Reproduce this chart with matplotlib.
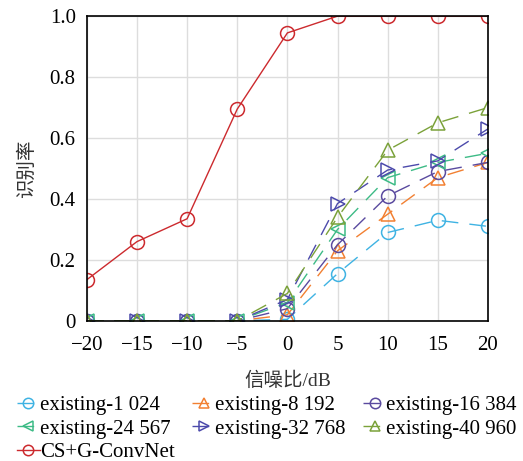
import matplotlib
matplotlib.use('Agg')
import matplotlib.pyplot as plt

plt.rcParams['font.family'] = ['Liberation Serif', 'Noto Sans CJK SC']

# SNR values (dB)
snr = [-20, -15, -10, -5, 0, 5, 10, 15, 20]

# recognition rates
acc_1024 = [0, 0, 0, 0, 0.005, 0.155, 0.29, 0.33, 0.31]
acc_8192 = [0, 0, 0, 0, 0.02, 0.23, 0.35, 0.47, 0.52]
acc_16384 = [0, 0, 0, 0, 0.04, 0.25, 0.41, 0.49, 0.52]
acc_24567 = [0, 0, 0, 0, 0.06, 0.30, 0.47, 0.52, 0.55]
acc_32768 = [0, 0, 0, 0, 0.07, 0.385, 0.495, 0.525, 0.63]
acc_40960 = [0, 0, 0, 0, 0.09, 0.34, 0.56, 0.65, 0.70]
acc_cs = [0.135, 0.26, 0.335, 0.695, 0.945, 1.0, 1.0, 1.0, 1.0]

series = [
    ('existing-1 024', acc_1024, '#3fb3e3', 'o'),
    ('existing-8 192', acc_8192, '#f28032', '^'),
    ('existing-16 384', acc_16384, '#5a4a9f', 'o'),
    ('existing-24 567', acc_24567, '#3dbb86', '<'),
    ('existing-32 768', acc_32768, '#4c4aab', '>'),
    ('existing-40 960', acc_40960, '#7ba23a', '^'),
]

fig = plt.figure(figsize=(5.23, 4.61), dpi=100)
ax = fig.add_axes([0.166, 0.304, 0.767, 0.661])

handles = []
for label, y, c, m in series:
    h, = ax.plot(snr, y, color=c, marker=m, markersize=10, markerfacecolor='none',
                 markeredgewidth=1.1, linewidth=1.0, dashes=(12, 8), label=label)
    handles.append(h)
h, = ax.plot(snr, acc_cs, color='#cc2a2e', marker='o', markersize=10,
             markerfacecolor='none', markeredgewidth=1.1, linewidth=1.0,
             label='CS+G-ConvNet')
handles.append(h)

ax.set_xlim(-20, 20)
ax.set_ylim(0, 1.0)
ax.set_xticks(snr)
ax.set_xticklabels(['\u221220', '\u221215', '\u221210', '\u22125', '0', '5', '10', '15', '20'])
ax.set_yticks([0, 0.2, 0.4, 0.6, 0.8, 1.0])
ax.set_yticklabels(['0', '0.2', '0.4', '0.6', '0.8', '1.0'])
ax.tick_params(length=0, labelsize=15)
ax.tick_params(axis='x', pad=11)
ax.tick_params(axis='y', pad=8)
ax.grid(True, color='#dddddd', linewidth=1.0)
ax.set_axisbelow(True)
for s in ax.spines.values():
    s.set_color('black')
    s.set_linewidth(1.2)

ax.set_xlabel('信噪比/dB', fontsize=14, color='#333333', labelpad=12)
ax.set_ylabel('识别率', fontsize=14, color='#333333', labelpad=10)

# legend filled row by row (matplotlib fills columns first)
order = [0, 3, 6, 1, 4, 2, 5]
fig.legend([handles[i] for i in order], [handles[i].get_label() for i in order],
           loc='lower center', bbox_to_anchor=(0.51, -0.03), ncol=3,
           frameon=False, fontsize=15, handlelength=1.1, handletextpad=0.0,
           columnspacing=0.85, labelspacing=0.2, borderaxespad=0.2,
           markerscale=0.75)

fig.savefig('out.png', dpi=100)
